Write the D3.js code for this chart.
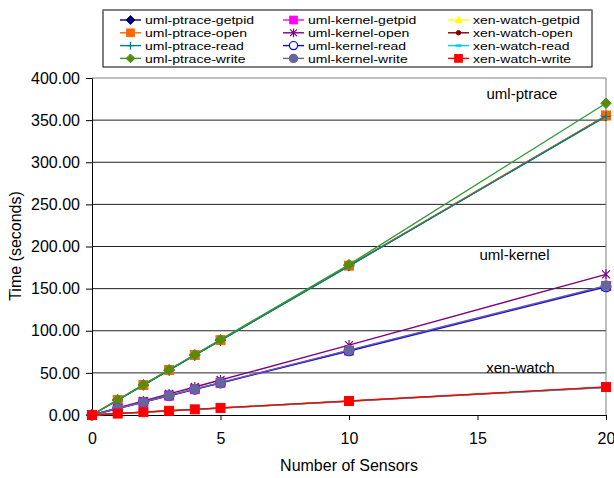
<!DOCTYPE html>
<html>
<head>
<meta charset="utf-8">
<script src="https://cdn.jsdelivr.net/npm/d3@7"></script>
<style>
  body { margin: 0; background: #fff; }
  text { font-family: "Liberation Sans", Arial, sans-serif; fill: #000; }
</style>
</head>
<body>
<svg id="chart" width="614" height="478"></svg>
<script>
// number of sensors on the x axis
var sensors = [0, 1, 2, 3, 4, 5, 10, 20];

// seconds
var ptraceGetpid = [0, 17.8, 35.5, 53.2, 71.0, 88.7, 177.0, 355.0];
var ptraceOpen   = [0, 17.9, 35.6, 53.4, 71.2, 88.9, 177.3, 355.5];
var ptraceRead   = [0, 17.7, 35.4, 53.1, 70.9, 88.6, 176.8, 354.5];
var ptraceWrite  = [0, 18.0, 36.0, 53.8, 71.6, 89.5, 178.5, 370.0];
var kernelGetpid = [0, 7.7, 15.3, 23.0, 30.7, 38.3, 76.5, 153.0];
var kernelOpen   = [0, 8.3, 16.6, 25.0, 33.2, 41.5, 83.0, 167.0];
var kernelRead   = [0, 7.6, 15.2, 22.8, 30.5, 38.0, 76.0, 152.0];
var kernelWrite  = [0, 7.7, 15.4, 23.1, 30.8, 38.5, 77.0, 153.5];
var xenGetpid    = [0, 1.6, 3.3, 4.9, 6.6, 8.2, 16.4, 32.8];
var xenOpen      = [0, 1.7, 3.3, 5.0, 6.6, 8.3, 16.5, 33.0];
var xenRead      = [0, 1.6, 3.3, 4.9, 6.5, 8.2, 16.3, 32.6];
var xenWrite     = [0, 1.7, 3.4, 5.0, 6.7, 8.4, 16.6, 33.2];

var yTicks = [0, 50, 100, 150, 200, 250, 300, 350, 400];
var xTicks = [0, 5, 10, 15, 20];

var series = [
  {name: 'uml-ptrace-getpid', values: ptraceGetpid, color: '#000080', fill: '#000080', marker: 'diamond'},
  {name: 'uml-ptrace-open',   values: ptraceOpen,   color: '#ff6600', fill: '#ff6600', marker: 'square'},
  {name: 'uml-ptrace-read',   values: ptraceRead,   color: '#008080', fill: 'none',    marker: 'plus'},
  {name: 'uml-ptrace-write',  values: ptraceWrite,  color: '#339933', fill: '#5f8a00', marker: 'diamond'},
  {name: 'uml-kernel-getpid', values: kernelGetpid, color: '#ff00ff', fill: '#ff00ff', marker: 'square'},
  {name: 'uml-kernel-open',   values: kernelOpen,   color: '#800080', fill: 'none',    marker: 'asterisk'},
  {name: 'uml-kernel-read',   values: kernelRead,   color: '#0000ff', fill: '#ffffff', marker: 'circle'},
  {name: 'uml-kernel-write',  values: kernelWrite,  color: '#666699', fill: '#666699', marker: 'circle'},
  {name: 'xen-watch-getpid',  values: xenGetpid,    color: '#ffff00', fill: '#ffff00', marker: 'triangle'},
  {name: 'xen-watch-open',    values: xenOpen,      color: '#800000', fill: '#800000', marker: 'dot'},
  {name: 'xen-watch-read',    values: xenRead,      color: '#00ccff', fill: 'none',    marker: 'dash'},
  {name: 'xen-watch-write',   values: xenWrite,     color: '#ff0000', fill: '#ff0000', marker: 'square'}
];

var margin = {top: 78, right: 8, bottom: 63, left: 92},
  width = 614 - margin.left - margin.right,
  height = 478 - margin.top - margin.bottom;

var svg = d3.select('#chart');
var g = svg.append('g').attr('transform', `translate(${margin.left},${margin.top})`);

var x = d3.scaleLinear().domain([0, 20]).range([0, width]);
var y = d3.scaleLinear().domain([0, 400]).range([height, 0]);

// grid lines
g.selectAll('.grid').data(yTicks.filter(d => d > 0 && d < 400)).enter()
  .append('line')
  .attr('x1', 0).attr('x2', width)
  .attr('y1', d => y(d)).attr('y2', d => y(d))
  .attr('stroke', '#222').attr('stroke-width', 1);

// plot frame top / right
g.append('path')
  .attr('d', `M0,${y(400)}H${width}V${height}`)
  .attr('fill', 'none').attr('stroke', '#808080').attr('stroke-width', 1);

// axes
var yAxis = d3.axisLeft(y).tickValues(yTicks).tickFormat(d3.format('.2f')).tickSizeOuter(0).tickSize(6).tickPadding(6);
g.append('g').attr('class', 'y').call(yAxis);
var xAxis = d3.axisBottom(x).tickValues(xTicks).tickSizeOuter(0).tickSize(5).tickPadding(13);
g.append('g').attr('class', 'x').attr('transform', `translate(0,${height})`).call(xAxis);
g.selectAll('.domain, .tick line').attr('stroke', '#000');
g.selectAll('.tick text').style('font-size', '16px').attr('fill', '#000');

// axis titles
svg.append('text')
  .attr('transform', 'translate(21,246) rotate(-90)')
  .attr('text-anchor', 'middle').style('font-size', '16px')
  .text('Time (seconds)');
svg.append('text')
  .attr('x', 349).attr('y', 471)
  .attr('text-anchor', 'middle').style('font-size', '16px')
  .text('Number of Sensors');

// group labels
var notes = [
  {text: 'uml-ptrace', sx: 16.73, sy: 375},
  {text: 'uml-kernel', sx: 16.44, sy: 184},
  {text: 'xen-watch',  sx: 16.67, sy: 50}
];
g.selectAll('.note').data(notes).enter().append('text')
  .attr('x', d => x(d.sx)).attr('y', d => y(d.sy))
  .attr('text-anchor', 'middle').style('font-size', '15px')
  .text(d => d.text);

function drawMarker(sel, s, size) {
  var k = size || 1;
  if (s.marker === 'diamond') {
    var r = 5.2 * k;
    sel.append('path').attr('d', `M0,${-r}L${r},0L0,${r}L${-r},0Z`)
      .attr('fill', s.fill).attr('stroke', s.color).attr('stroke-width', 1);
  } else if (s.marker === 'square') {
    var h = 4.5 * k;
    sel.append('rect').attr('x', -h).attr('y', -h).attr('width', 2 * h).attr('height', 2 * h)
      .attr('fill', s.fill).attr('stroke', s.color).attr('stroke-width', 1);
  } else if (s.marker === 'plus') {
    var p = 4.5 * k;
    sel.append('path').attr('d', `M${-p},0H${p}M0,${-p}V${p}`)
      .attr('fill', 'none').attr('stroke', s.color).attr('stroke-width', 1.3);
  } else if (s.marker === 'asterisk') {
    var a = 4 * k;
    sel.append('path').attr('d', `M${-a},${-a}L${a},${a}M${-a},${a}L${a},${-a}M0,${-a - 1}V${a + 1}`)
      .attr('fill', 'none').attr('stroke', s.color).attr('stroke-width', 1.2);
  } else if (s.marker === 'circle') {
    sel.append('circle').attr('r', 4.8 * k)
      .attr('fill', s.fill).attr('stroke', s.color).attr('stroke-width', 1.2);
  } else if (s.marker === 'triangle') {
    var t = 4 * k;
    sel.append('path').attr('d', `M0,${-t}L${t},${t * 0.8}L${-t},${t * 0.8}Z`)
      .attr('fill', s.fill).attr('stroke', s.color).attr('stroke-width', 1);
  } else if (s.marker === 'dot') {
    sel.append('circle').attr('r', 2.6 * k)
      .attr('fill', s.fill).attr('stroke', s.color);
  } else if (s.marker === 'dash') {
    sel.append('line').attr('x1', -3).attr('x2', 3)
      .attr('stroke', s.color).attr('stroke-width', 2.5);
  }
}

var line = d3.line().x((d, i) => x(sensors[i])).y(d => y(d));

series.forEach(function(s) {
  var sg = g.append('g');
  sg.append('path').attr('d', line(s.values))
    .attr('fill', 'none').attr('stroke', s.color).attr('stroke-width', 1.4);
  s.values.forEach(function(v, i) {
    var m = sg.append('g').attr('transform', `translate(${x(sensors[i])},${y(v)})`);
    drawMarker(m, s);
  });
});

// legend
var legend = svg.append('g').attr('transform', 'translate(103,10)');
legend.append('rect').attr('x', 0).attr('y', 0).attr('width', 489).attr('height', 57)
  .attr('fill', '#fff').attr('stroke', '#000').attr('stroke-width', 1);
legend.append('line').attr('x1', 0).attr('x2', 489).attr('y1', 0).attr('y2', 0)
  .attr('stroke', '#808080').attr('stroke-width', 1.5);
var colX = [17, 180, 345];
series.forEach(function(s, i) {
  var col = Math.floor(i / 4), row = i % 4;
  var lg = legend.append('g').attr('transform', `translate(${colX[col]},${10 + row * 12.8})`);
  lg.append('line').attr('x1', 0).attr('x2', 21).attr('stroke', s.color).attr('stroke-width', 1.4);
  var m = lg.append('g').attr('transform', 'translate(10.5,0)');
  drawMarker(m, s, 0.85);
  // legend labels are a bit wider than the font's natural width
  lg.append('text').attr('transform', 'translate(25,4.2) scale(1.22,1)')
    .style('font-size', '11.5px').text(s.name);
});
</script>
</body>
</html>
